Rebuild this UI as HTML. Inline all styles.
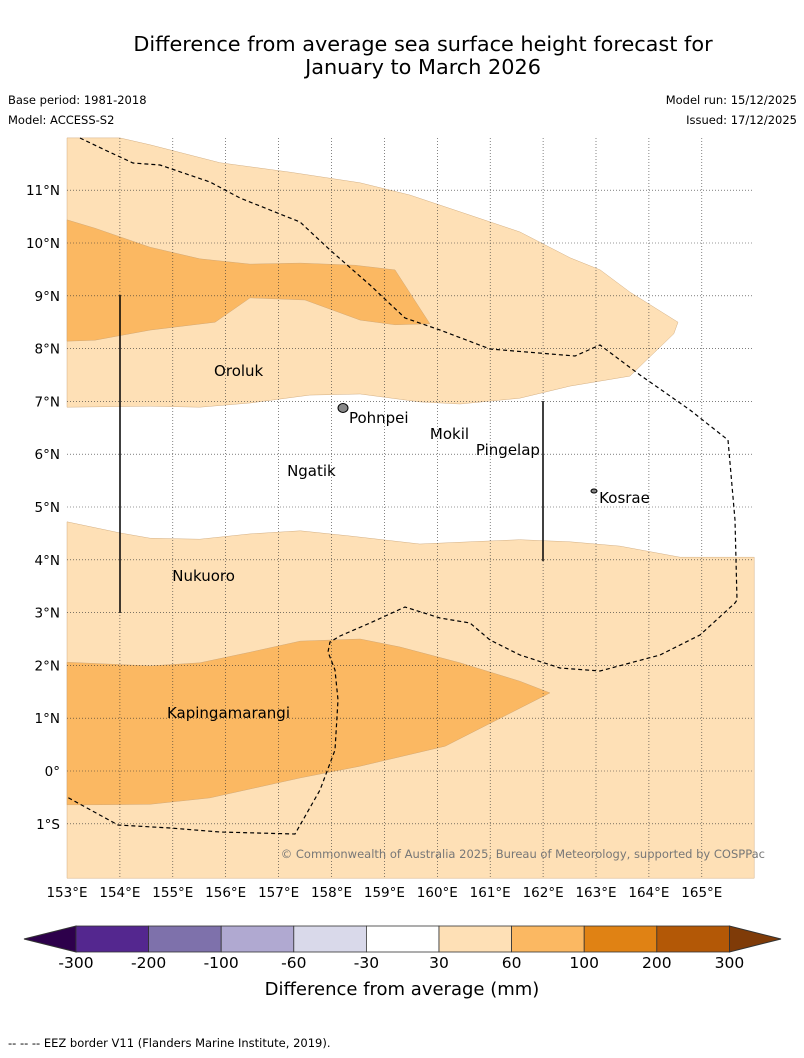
<!DOCTYPE html>
<html><head><meta charset="utf-8"><style>
body{margin:0;background:#fff;font-family:"DejaVu Sans","Liberation Sans",sans-serif;}
svg{display:block}
</style></head><body>
<svg width="804" height="1058" viewBox="0 0 804 1058" id="svg">
<text x="423" y="51" font-size="20.8" text-anchor="middle">Difference from average sea surface height forecast for</text>
<text x="423" y="74" font-size="20.8" text-anchor="middle">January to March 2026</text>
<text x="8" y="104" font-size="11.5">Base period: 1981-2018</text>
<text x="8" y="124" font-size="11.5">Model: ACCESS-S2</text>
<text x="797" y="104" font-size="11.5" text-anchor="end">Model run: 15/12/2025</text>
<text x="797" y="124" font-size="11.5" text-anchor="end">Issued: 17/12/2025</text>
<g id="map"></g>
<g id="cbar"></g>
<text x="402" y="995" font-size="18" text-anchor="middle">Difference from average (mm)</text>
<text x="8" y="1047" font-size="11.5">--  --  -- EEZ border V11 (Flanders Marine Institute, 2019).</text>
</svg>
<script>
const lonTicks=[153,154,155,156,157,158,159,160,161,162,163,164,165];
const latTicks=[-1,0,1,2,3,4,5,6,7,8,9,10,11];
const bandTopLight=[[153,11.99],[154,11.99],[154.57,11.86],[155.89,11.52],[157.22,11.34],[158.54,11.14],[159.48,10.91],[160.43,10.59],[161.56,10.21],[162.51,9.72],[163.08,9.49],[163.64,9.07],[164.55,8.5],[164.47,8.28],[163.64,7.48],[162.51,7.29],[161.56,7.06],[160.43,6.95],[159.67,6.99],[158.54,7.14],[157.59,7.12],[156.46,6.97],[155.51,6.89],[154.57,6.91],[153,6.89]];
const bandTopOrange=[[153,10.44],[153.53,10.28],[154.57,9.92],[155.51,9.7],[156.46,9.6],[157.41,9.62],[158.44,9.58],[159.2,9.49],[159.86,8.47],[159.2,8.45],[158.54,8.54],[157.5,8.92],[156.46,8.96],[155.8,8.5],[154.57,8.35],[153.53,8.16],[153,8.14]];
const bandLowLight=[[153,4.72],[154,4.51],[154.57,4.41],[155.51,4.39],[156.46,4.49],[157.41,4.55],[158.35,4.45],[159.67,4.3],[160.62,4.34],[161.56,4.38],[162.51,4.34],[163.45,4.26],[164.59,4.05],[165.99,4.05],[165.99,-2.03],[153,-2.03]];
const bandLowOrange=[[153,2.06],[154.57,1.99],[155.51,2.05],[156.46,2.25],[157.41,2.46],[158.54,2.5],[159.29,2.35],[160.43,2.05],[161.56,1.7],[162.13,1.48],[160.15,0.47],[158.54,0.09],[157.41,-0.13],[155.7,-0.51],[154.57,-0.63],[153.53,-0.64],[153,-0.64]];
const places=["Oroluk","Pohnpei","Mokil","Pingelap","Ngatik","Kosrae","Nukuoro","Kapingamarangi"];
const placeLon=[155.78,158.33,159.86,160.73,157.16,163.06,154.99,154.89];
const placeLat=[7.58,6.69,6.38,6.08,5.68,5.17,3.69,1.10];
const cbLabels=["-300","-200","-100","-60","-30","30","60","100","200","300"];
const cbColors=["#54278f","#7e71ab","#b0a9d1","#d9d9ea","#ffffff","#fee0b6","#fbb862","#e08214","#b35806"];
const NS="http://www.w3.org/2000/svg";
const X=l=>67+(l-153)*52.9, Y=t=>771-t*52.8;
function mk(tag,at,par){const e=document.createElementNS(NS,tag);for(const k in at)e.setAttribute(k,at[k]);par.appendChild(e);return e;}
const map=document.getElementById('map');
const pts=a=>a.map(p=>X(p[0]).toFixed(1)+','+Y(p[1]).toFixed(1)).join(' ');
[[bandTopLight,'#fee0b6','band-north-light'],[bandTopOrange,'#fbb862','band-north-orange'],[bandLowLight,'#fee0b6','band-south-light'],[bandLowOrange,'#fbb862','band-south-orange']].forEach(b=>{
 const e=mk('polygon',{points:pts(b[0]),fill:b[1],stroke:'#c8a070','stroke-width':0.4},map);
 
 
});
lonTicks.forEach(l=>{
 if(l>153){const g=mk('line',{x1:X(l),x2:X(l),y1:138,y2:878,stroke:'#333','stroke-width':0.6,'stroke-dasharray':'1,2'},map);
 
 }
 const t=mk('text',{x:X(l),y:897,'font-size':13.5,'text-anchor':'middle'},map);t.textContent=l+'°E';
 
 
});
latTicks.forEach(t0=>{
 const g=mk('line',{x1:67,x2:754,y1:Y(t0),y2:Y(t0),stroke:'#333','stroke-width':0.6,'stroke-dasharray':'1,2'},map);
 
 
 const t=mk('text',{x:60,y:Y(t0)+5,'font-size':13.5,'text-anchor':'end'},map);
 t.textContent=t0<0?(-t0)+'°S':t0===0?'0°':t0+'°N';
 
 
});
const eez=mk('path',{d:'M80,138 L105,150 L133,163 L160,165 L210,182 L240,198 L270,210 L300,222 L330,250 L370,285 L405,318 L440,330 L490,349 L575,356 L600,345 L640,375 L690,410 L728,440 L735,520 L737,600 L735,603 L700,635 L660,655 L600,671 L560,668 L520,655 L490,640 L470,623 L440,618 L405,607 L370,623 L340,636 L330,642 L328,652 L335,670 L338,700 L335,750 L320,790 L295,834 L220,832 L170,828 L118,825 L67,797',fill:'none',stroke:'#000','stroke-width':1.2,'stroke-dasharray':'4,3'},map);


[[120,295,613],[543,401,561]].forEach(v=>{const e=mk('line',{x1:v[0],x2:v[0],y1:v[1],y2:v[2],stroke:'#000','stroke-width':1.5},map);
 
 });
const isl=mk('ellipse',{cx:343,cy:408,rx:5,ry:4.5,fill:'#888',stroke:'#000'},map);


const ks=mk('ellipse',{cx:594,cy:491,rx:3,ry:2,fill:'#888',stroke:'#000'},map);


places.forEach((p,i)=>{const t=mk('text',{x:X(placeLon[i]),y:Y(placeLat[i])+5,'font-size':15},map);t.textContent=p;
 
 });
const cp=mk('text',{x:765,y:858,'font-size':11.5,fill:'#777','text-anchor':'end'},map);cp.textContent='© Commonwealth of Australia 2025, Bureau of Meteorology, supported by COSPPac';


const cb=document.getElementById('cbar');const w=72.6,x0=76,y0=926,h=26;
const l=mk('polygon',{points:`24,939 ${x0},${y0} ${x0},${y0+h}`,fill:'#2d004b',stroke:'#333'},cb);


const r=mk('polygon',{points:`781,939 ${x0+9*w},${y0} ${x0+9*w},${y0+h}`,fill:'#7f3b08',stroke:'#333'},cb);


cbColors.forEach((c,i)=>{const e=mk('rect',{x:x0+i*w,y:y0,width:w,height:h,fill:c,stroke:'#333','stroke-width':0.8},cb);
 
 });
cbLabels.forEach((s,i)=>{const t=mk('text',{x:x0+i*w,y:968,'font-size':15.5,'text-anchor':'middle'},cb);t.textContent=s;
 
 });
</script>
</body></html>
